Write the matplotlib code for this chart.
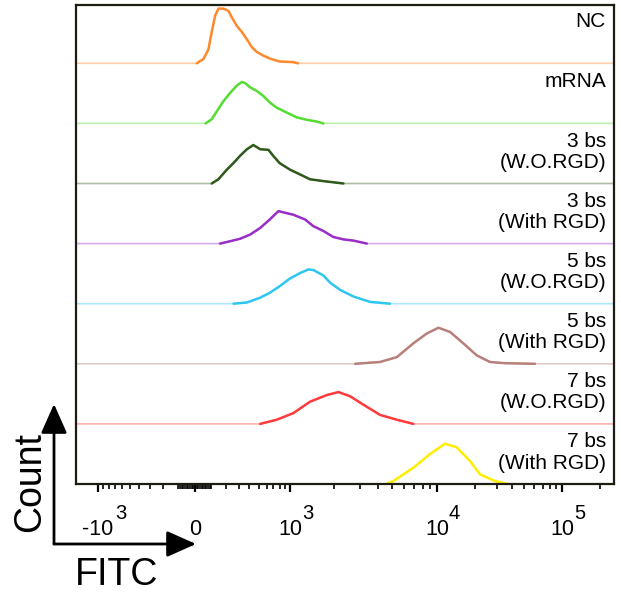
import numpy as np
import matplotlib
matplotlib.use("Agg")
import matplotlib.pyplot as plt
from matplotlib.patches import FancyArrowPatch

plt.rcParams['font.family'] = ['Liberation Sans', 'DejaVu Sans']

# muestras, de arriba hacia abajo
muestras = ["NC", "mRNA", "3 bs\n(W.O.RGD)", "3 bs\n(With RGD)",
            "5 bs\n(W.O.RGD)", "5 bs\n(With RGD)", "7 bs\n(W.O.RGD)", "7 bs\n(With RGD)"]
colores = ["#FF8A2E", "#55DD33", "#2F5A1C", "#9A2FC8",
           "#30C6F2", "#B8807C", "#FF3B3B", "#FFEE00"]

# histogramas (FITC, conteo normalizado)
nc_fitc = [10, 51, 82, 103, 125, 147, 182, 219, 245, 285, 328, 375, 424, 478, 555, 644, 800, 1050, 1137]
nc_count = [0, 0.07, 0.23, 0.52, 0.79, 0.91, 0.91, 0.87, 0.76, 0.62, 0.52, 0.40, 0.27, 0.19, 0.13, 0.08, 0.03, 0.02, 0]

mrna_fitc = [65, 103, 136, 182, 232, 285, 328, 359, 407, 478, 555, 644, 754, 933, 1115, 1308, 1533, 1701]
mrna_count = [0, 0.07, 0.20, 0.37, 0.51, 0.63, 0.69, 0.67, 0.60, 0.54, 0.46, 0.35, 0.26, 0.18, 0.10, 0.06, 0.03, 0]

bs3_wo_fitc = [103, 147, 206, 257, 312, 375, 441, 519, 627, 697, 800, 1000, 1176, 1378, 1701, 1990, 2330]
bs3_wo_count = [0, 0.07, 0.23, 0.34, 0.46, 0.57, 0.64, 0.57, 0.56, 0.46, 0.34, 0.23, 0.15, 0.07, 0.04, 0.02, 0]

bs3_rgd_fitc = [158, 232, 312, 407, 519, 644, 780, 868, 1056, 1275, 1452, 1701, 1990, 2330, 2724, 3357]
bs3_rgd_count = [0, 0.04, 0.08, 0.15, 0.26, 0.40, 0.54, 0.52, 0.48, 0.40, 0.29, 0.21, 0.11, 0.07, 0.05, 0]

bs5_wo_fitc = [257, 375, 519, 644, 800, 1000, 1176, 1342, 1452, 1701, 1891, 2211, 2724, 3531, 4815]
bs5_wo_count = [0, 0.02, 0.10, 0.18, 0.29, 0.42, 0.51, 0.57, 0.56, 0.47, 0.35, 0.23, 0.12, 0.03, 0]

bs5_rgd_fitc = [2796, 4120, 5346, 6918, 8472, 10245, 12700, 16230, 20760, 26520, 34950, 60690]
bs5_rgd_count = [0, 0.03, 0.11, 0.34, 0.50, 0.60, 0.53, 0.34, 0.14, 0.03, 0.01, 0]

bs7_wo_fitc = [519, 754, 1056, 1378, 1795, 2155, 2586, 3180, 4120, 5346, 6918]
bs7_wo_count = [0, 0.07, 0.18, 0.37, 0.48, 0.53, 0.46, 0.32, 0.15, 0.07, 0]

bs7_rgd_fitc = [4530, 5074, 6918, 8970, 11580, 14370, 18360, 22070, 29070, 36930]
bs7_rgd_count = [0, 0.05, 0.27, 0.50, 0.67, 0.61, 0.38, 0.16, 0.05, 0]

fitc = [nc_fitc, mrna_fitc, bs3_wo_fitc, bs3_rgd_fitc, bs5_wo_fitc, bs5_rgd_fitc, bs7_wo_fitc, bs7_rgd_fitc]
conteo = [nc_count, mrna_count, bs3_wo_count, bs3_rgd_count, bs5_wo_count, bs5_rgd_count, bs7_wo_count, bs7_rgd_count]

ticks_mayores = [-1e3, 0, 1e3, 1e4, 1e5]
etiquetas = ["-10", "0", "10", "10", "10"]
exponentes = ["3", "", "3", "4", "5"]
ticks_menores = (list(range(-900, -99, 100)) + list(range(-90, 0, 10)) + list(range(10, 100, 10))
                 + list(range(100, 1000, 100)) + list(range(2000, 10000, 1000))
                 + list(range(20000, 100000, 10000)) + [200000])

# escala tipo biexponencial
W = 300.
S_ANC = np.array([-10., np.arcsinh(-1e3/W), 0., np.arcsinh(1e3/W), np.arcsinh(1e4/W), np.arcsinh(1e5/W), 12.])
P_ANC = np.array([-505.5, -97., 0., 95., 242., 367., 665.5])

def adelante(x):
    return np.interp(np.arcsinh(np.asarray(x, dtype=float)/W), S_ANC, P_ANC)

def atras(p):
    return W*np.sinh(np.interp(np.asarray(p, dtype=float), P_ANC, S_ANC))

fig = plt.figure(figsize=(6.21, 5.97), dpi=100)
ax = fig.add_axes([76/621, 1 - 484/597, (614-76)/621, (484-5)/597])
ax.set_xscale('function', functions=(adelante, atras))
xmin, xmax = -1565, 2.6e5
ax.set_xlim(xmin, xmax)
ax.set_ylim(0, 7.97)

n = len(muestras)
for i in range(n):
    base = n - 1 - i
    xs = [xmin] + fitc[i] + [xmax]
    ys = [base] + [base + c for c in conteo[i]] + [base]
    ax.plot(xs, ys, color=colores[i], lw=1.2, alpha=0.4, solid_capstyle='butt')
    ax.plot(fitc[i], [base + c for c in conteo[i]], color=colores[i], lw=1.8,
            solid_joinstyle='round', solid_capstyle='round')
    ax.text(0.985, base + 0.86, muestras[i], transform=ax.get_yaxis_transform(),
            ha='right', va='top', fontsize=15, linespacing=1.15)

ax.set_xticks(ticks_mayores)
ax.set_xticklabels(etiquetas, fontsize=15.5)
ax.set_xticks(ticks_menores, minor=True)
ax.set_yticks([])
ax.tick_params(axis='x', which='major', direction='out', length=6, width=1.6, pad=19, color='black')
ax.tick_params(axis='x', which='minor', direction='out', length=3.5, width=1.2, color='black')
for s in ax.spines.values():
    s.set_linewidth(1.6)
    s.set_color('#1c1c12')

for t, e, et in zip(ticks_mayores, exponentes, etiquetas):
    if e:
        dx = 12.3 if et.startswith("-") else 8.4
        ax.annotate(e, xy=(t, 0), xycoords=ax.get_xaxis_transform(), xytext=(dx, -25),
                    textcoords='offset points', ha='left', va='baseline', fontsize=14.5,
                    annotation_clip=False)

# flechas de ejes
H = 597.
def fpx(x, y):
    return (x/621, (H - y)/H)

for destino in [(54, 404), (196, 544)]:
    flecha = FancyArrowPatch(fpx(54, 544), fpx(*destino), transform=fig.transFigure,
                             arrowstyle='-|>,head_length=0.9,head_width=0.4', mutation_scale=20,
                             lw=2, color='black', shrinkA=0, shrinkB=0)
    fig.add_artist(flecha)

fig.text(30/621, 1 - 482/H, "Count", rotation=90, fontsize=27, ha='center', va='center')
fig.text(117/621, 1 - 585/H, "FITC", fontsize=27, ha='center', va='baseline')

fig.savefig("out.png", dpi=100)
